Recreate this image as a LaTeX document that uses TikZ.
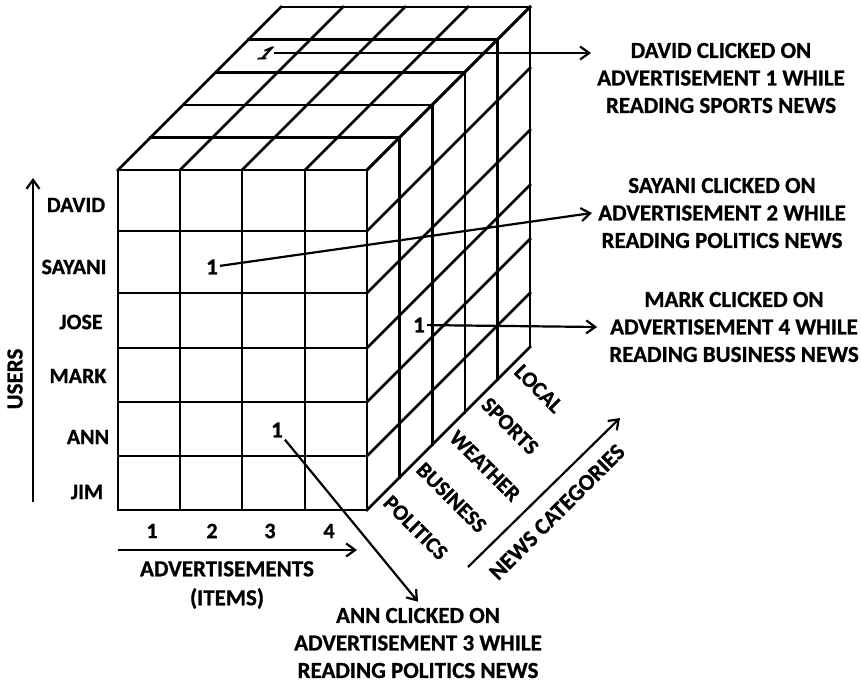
\documentclass[tikz,border=0pt]{standalone}
\usepackage{fontspec}
\setmainfont{Carlito}[BoldFeatures={FakeBold=0.8}]
\usetikzlibrary{arrows.meta, positioning, calc}

\begin{document}
\begin{tikzpicture}[
    x=1pt, y=-1pt,
    grid/.style={line width=2.6pt, line cap=rect},
    arrow/.style={-{Straight Barb[length=9pt, width=13pt, line width=2.2pt]}, line width=2.2pt},
    lbl/.style={font=\fontsize{22}{26}\selectfont\bfseries, inner sep=0pt},
    note/.style={font=\fontsize{23}{27.5}\selectfont\bfseries, align=center, inner sep=6pt},
    one/.style={font=\fontsize{23}{26}\selectfont\bfseries, inner sep=2pt}
]
\useasboundingbox (0,0) rectangle (861,683);

% Front face (advertisements x users)
\foreach \x in {118,180,242,305,367} \draw[grid] (\x,170) -- (\x,510);
\foreach \y in {170,231,293,348,402,456,510} \draw[grid] (118,\y) -- (367,\y);

% Top face
\foreach \x in {118,180,242,305,367} \draw[grid] (\x,170) -- ++(163,-163);
\foreach \k in {1,...,5} \draw[grid] (118+32.6*\k,170-32.6*\k) -- ++(249,0);

% Right face (news categories)
\foreach \k in {1,...,5} \draw[grid] (367+32.6*\k,170-32.6*\k) -- ++(0,340);
\foreach \y in {170,231,293,348,402,456,510} \draw[grid] (367,\y) -- ++(163,-163);

% Users
\node[lbl] (david) at (76,205) {DAVID};
\node[lbl] (sayani) at (74,267) {SAYANI};
\node[lbl] (jose) at (81,322) {JOSE};
\node[lbl] (mark) at (78,376) {MARK};
\node[lbl] (ann) at (88,437) {ANN};
\node[lbl] (jim) at (87,492) {JIM};
\node[lbl, rotate=90, font=\fontsize{23}{26}\selectfont\bfseries] (users) at (15,379) {USERS};
\coordinate (ubot) at (33,502);
\coordinate (utop) at (33,178);
\draw[arrow] (ubot) -- (utop);

% Advertisements
\node[lbl] (ad1) at (152,531) {1};
\node[lbl] (ad2) at (212,531) {2};
\node[lbl] (ad3) at (270,531) {3};
\node[lbl] (ad4) at (329,531) {4};
\node[note, inner sep=0pt, anchor=north, font=\fontsize{23}{29}\selectfont\bfseries] (ads) at (227,561) {ADVERTISEMENTS\\(ITEMS)};
\coordinate (adleft) at (118,550);
\coordinate (adright) at (357,550);
\draw[arrow] (adleft) -- (adright);

% News categories
\node[lbl, rotate=-45, anchor=west] (politics) at (387,499) {POLITICS};
\node[lbl, rotate=-45, anchor=west] (business) at (420,466) {BUSINESS};
\node[lbl, rotate=-45, anchor=west] (weather) at (453,434) {WEATHER};
\node[lbl, rotate=-45, anchor=west] (sports) at (485,401) {SPORTS};
\node[lbl, rotate=-45, anchor=west] (local) at (518,368) {LOCAL};
\node[note, inner sep=0pt, rotate=45] (news) at (557,512) {NEWS CATEGORIES};
\coordinate (nbot) at (468,567);
\coordinate (ntop) at (620,418);
\draw[arrow] (nbot) -- (ntop);

% Clicks
\node[one, xslant=0.9, yscale=0.85] (one1) at (266,53) {1};
\node[one] (one2) at (212,267) {1};
\node[one] (one3) at (419,325) {1};
\node[one] (one4) at (277,430) {1};

% Notes
\node[note] (note1) at (721,78) {DAVID CLICKED ON\\ADVERTISEMENT 1 WHILE\\READING SPORTS NEWS};
\node[note] (note2) at (722,213) {SAYANI CLICKED ON\\ADVERTISEMENT 2 WHILE\\READING POLITICS NEWS};
\node[note] (note3) at (734,327) {MARK CLICKED ON\\ADVERTISEMENT 4 WHILE\\READING BUSINESS NEWS};
\node[note] (note4) at (418,643) {ANN CLICKED ON\\ADVERTISEMENT 3 WHILE\\READING POLITICS NEWS};

% Arrows
\draw[arrow] (one1) -- (one1 -| note1.west);
\draw[arrow] (one2) -- (note2.west);
\draw[arrow] (one3) -- ([xshift=-6pt]note3.west);
\draw[arrow] (one4) -- (note4.north);

\end{tikzpicture}
\end{document}
